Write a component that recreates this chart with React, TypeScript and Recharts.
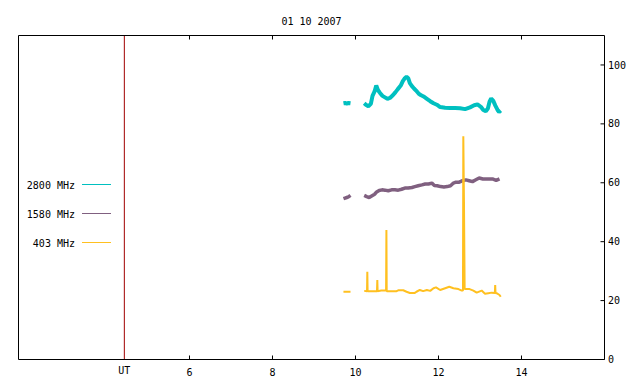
import { LineChart, Line, XAxis, YAxis, ReferenceLine, Legend } from 'recharts'

const title = '01 10 2007'
const seriesNames = ['2800 MHz', '1580 MHz', '403 MHz']
const seriesColors = ['#00c0c0', '#806080', '#ffc020']
const xTicks = [6, 8, 10, 12, 14]
const yTicks = [0, 20, 40, 60, 80, 100]
const utMark = 4.43
const xDomain = [1.88, 16]
const yDomain = [0, 110]

// hours UT -> flux; the null splits the two observing runs
const t2800 = [
  9.71, 9.75, 9.79, 9.83, 9.88, 10.0,
  10.21, 10.25, 10.31, 10.37, 10.41, 10.46, 10.5, 10.54, 10.59, 10.65, 10.71, 10.77, 10.83, 10.9,
  10.96, 11.02, 11.09, 11.14, 11.19, 11.23, 11.27, 11.31, 11.36, 11.41, 11.46, 11.52, 11.57, 11.64,
  11.72, 11.8, 11.88, 11.96, 12.04, 12.16, 12.28, 12.4, 12.52, 12.64, 12.76, 12.86, 12.94, 13.02,
  13.08, 13.14, 13.19, 13.23, 13.27, 13.32, 13.37, 13.42, 13.46, 13.5,
]
const v2800 = [
  87.0, 87.1, 86.9, 87.1, 87.0, null,
  87.0, 86.5, 86.0, 86.8, 89.5, 91.0, 93.0, 91.5, 90.5, 89.5, 89.0, 88.5, 88.8, 89.7,
  90.7, 91.8, 93.0, 94.5, 95.5, 96.0, 95.5, 93.8, 92.8, 92.0, 91.3, 90.3, 89.8, 89.3,
  88.5, 87.7, 87.0, 86.5, 85.7, 85.5, 85.4, 85.4, 85.3, 85.0, 85.6, 86.3, 86.6, 85.8,
  84.7, 84.3, 85.2, 87.5, 88.6, 87.8, 86.2, 84.8, 84.0, 84.5,
]

const t1580 = [
  9.71, 9.75, 9.79, 9.83, 9.88, 10.0,
  10.21, 10.27, 10.33, 10.4, 10.46, 10.51, 10.57, 10.64, 10.71, 10.79, 10.87, 10.95, 11.03, 11.11,
  11.19, 11.27, 11.36, 11.43, 11.51, 11.6, 11.68, 11.76, 11.84, 11.9, 11.97, 12.05, 12.13, 12.21,
  12.29, 12.36, 12.42, 12.5, 12.58, 12.66, 12.74, 12.82, 12.9, 12.98, 13.07, 13.15, 13.22, 13.3,
  13.39, 13.47,
]
const v1580 = [
  54.6, 54.8, 55.0, 55.2, 55.7, null,
  55.7, 55.3, 55.0, 55.6, 56.1, 56.9, 57.4, 57.6, 57.5, 57.3, 57.6, 57.6, 57.5, 57.8,
  58.2, 58.2, 58.4, 58.7, 59.0, 59.3, 59.6, 59.6, 59.9, 59.1, 59.0, 58.7, 58.6, 58.7,
  59.0, 59.9, 60.2, 60.2, 60.7, 61.0, 60.7, 60.4, 61.0, 61.6, 61.3, 61.3, 61.3, 61.3,
  60.8, 61.3,
]

const t403 = [
  9.71, 9.79, 9.88, 10.0,
  10.21, 10.278, 10.285, 10.292, 10.4, 10.518, 10.526, 10.533, 10.62, 10.71, 10.737, 10.745, 10.752,
  10.78, 10.99, 11.03, 11.15, 11.23, 11.31, 11.43, 11.47, 11.55, 11.63, 11.72, 11.8, 11.88, 11.94,
  12.04, 12.16, 12.26, 12.36, 12.48, 12.56, 12.59, 12.598, 12.614, 12.63, 12.67, 12.75, 12.84,
  12.92, 13.04, 13.12, 13.2, 13.28, 13.358, 13.366, 13.374, 13.4, 13.47, 13.5,
]
const v403 = [
  23.0, 23.0, 23.0, null,
  23.3, 23.2, 29.8, 23.2, 23.2, 23.2, 27.0, 23.2, 23.4, 23.4, 23.4, 44.0, 23.2,
  23.2, 23.2, 23.5, 23.5, 23.0, 22.6, 22.6, 23.0, 23.6, 23.2, 23.6, 23.3, 24.2, 24.5,
  23.6, 24.2, 24.7, 24.2, 23.9, 23.4, 23.4, 75.8, 53.5, 23.9, 23.9, 23.9, 23.4,
  22.7, 23.4, 22.3, 22.5, 22.7, 22.6, 25.3, 22.6, 22.5, 21.9, 21.3,
]

const toPoints = (ts: number[], vs: (number | null)[]) => ts.map((t, i) => ({ t, v: vs[i] }))

const series = [
  { data: toPoints(t2800, v2800), width: 4 },
  { data: toPoints(t1580, v1580), width: 3.5 },
  { data: toPoints(t403, v403), width: 2 },
]

const mono = '"DejaVu Sans Mono", monospace'
const tickFont = { fontSize: 10, fontFamily: mono, fill: '#000' }

function SeriesKey({ payload }: any) {
  const items = [...(payload ?? [])].sort(
    (a, b) => seriesNames.indexOf(a.value) - seriesNames.indexOf(b.value)
  )
  return (
    <svg width={130} height={260} style={{ display: 'block' }}>
      {items.map((item, i) => {
        const y = 184.5 + i * 29
        return (
          <g key={item.value}>
            <text x={75} y={y + 4} textAnchor="end" fontSize={10} fontFamily={mono} fill="#000">
              {item.value}
            </text>
            <line x1={82} x2={111} y1={y} y2={y} stroke={item.color} />
          </g>
        )
      })}
    </svg>
  )
}

export default function App() {
  return (
    <div style={{ position: 'absolute', left: 0, top: 0, width: 640, height: 384, background: '#fff' }}>
      <LineChart width={640} height={384} margin={{ top: 34.5, right: 0, bottom: 0, left: 17.5 }}>
        <XAxis
          xAxisId="b"
          dataKey="t"
          type="number"
          domain={xDomain}
          allowDataOverflow
          ticks={xTicks}
          interval={0}
          height={24.5}
          tickSize={-4}
          tickMargin={13.5}
          tick={tickFont}
          axisLine={{ stroke: '#000' }}
          tickLine={{ stroke: '#000' }}
        />
        <XAxis
          xAxisId="t"
          orientation="top"
          dataKey="t"
          type="number"
          domain={xDomain}
          allowDataOverflow
          ticks={xTicks}
          interval={0}
          height={1}
          tickSize={-4}
          tickFormatter={() => ''}
          axisLine={{ stroke: '#000' }}
          tickLine={{ stroke: '#000' }}
          label={{ value: title, position: 'top', offset: 9.5, fill: '#000', fontSize: 10, fontFamily: mono }}
        />
        <YAxis
          yAxisId="r"
          orientation="right"
          type="number"
          domain={yDomain}
          allowDataOverflow
          ticks={yTicks}
          interval={0}
          width={35.5}
          tickSize={-4}
          tickMargin={7.5}
          tick={tickFont}
          axisLine={{ stroke: '#000' }}
          tickLine={{ stroke: '#000' }}
        />
        <YAxis
          yAxisId="l"
          orientation="left"
          type="number"
          domain={yDomain}
          allowDataOverflow
          width={1}
          tick={false}
          tickLine={false}
          axisLine={{ stroke: '#000' }}
        />
        <ReferenceLine
          xAxisId="b"
          yAxisId="r"
          x={utMark}
          stroke="#a00000"
          label={{ value: 'UT', position: 'bottom', offset: 7.5, fill: '#000', fontSize: 10, fontFamily: mono }}
        />
        {series.map((s, i) => (
          <Line
            key={seriesNames[i]}
            xAxisId="b"
            yAxisId="r"
            data={s.data}
            dataKey="v"
            name={seriesNames[i]}
            type="linear"
            stroke={seriesColors[i]}
            strokeWidth={s.width}
            strokeLinejoin="bevel"
            dot={false}
            activeDot={false}
            connectNulls={false}
            isAnimationActive={false}
          />
        ))}
        <Legend
          layout="horizontal"
          align="center"
          verticalAlign="middle"
          content={<SeriesKey />}
          wrapperStyle={{ left: 0, top: 0, width: 130, height: 260 }}
        />
      </LineChart>
    </div>
  )
}
